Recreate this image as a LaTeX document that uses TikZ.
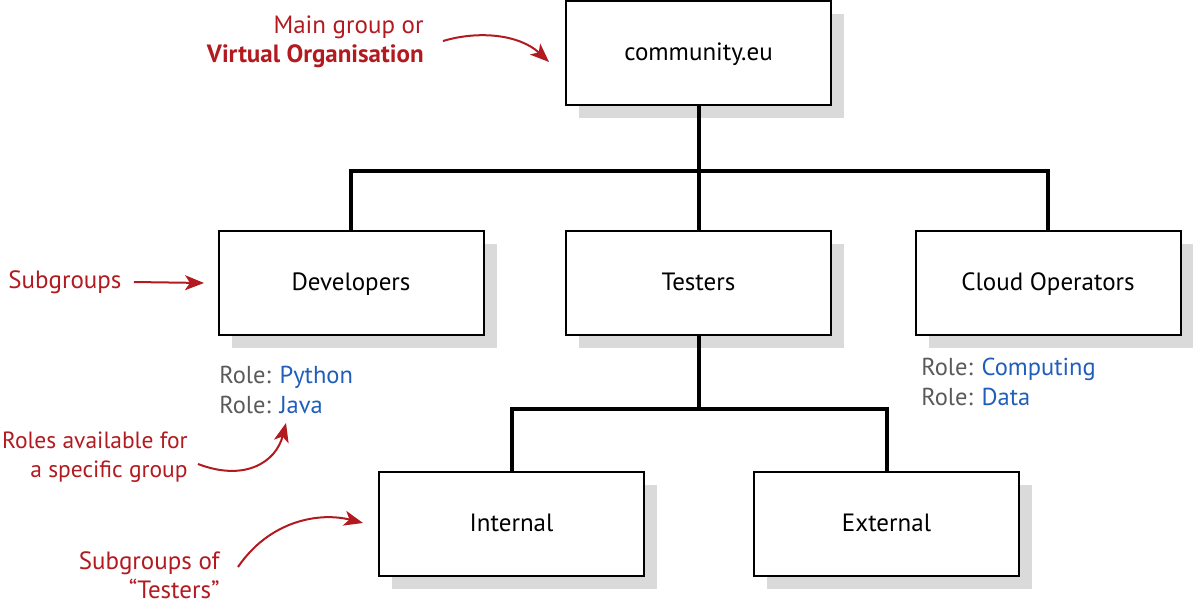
\documentclass[tikz,border=0pt]{standalone}
\usepackage{fontspec}
\setmainfont{PT Sans}
\usetikzlibrary{arrows.meta,shadows}
\definecolor{notered}{RGB}{178,26,32}
\definecolor{roleblue}{RGB}{31,94,186}
\definecolor{rolegray}{RGB}{90,90,90}
\definecolor{shadowgray}{RGB}{217,218,217}
\tikzset{every picture/.style={line width=0.75pt}}
\begin{document}
\begin{tikzpicture}[x=1pt,y=-1pt,
  box/.style={draw,line width=2pt,fill=white,minimum width=265pt,minimum height=104pt,
    font=\fontsize{25}{29}\selectfont,text height=20pt,text depth=5pt,
    drop shadow={shadow xshift=13pt,shadow yshift=-13pt,fill=shadowgray,opacity=1}},
  conn/.style={line width=4pt},
  note/.style={draw=notered,line width=2pt,-{Stealth[length=19pt,width=15pt,inset=5pt]}},
  lbl/.style={text=notered,inner sep=0pt,font=\fontsize{25}{29.5}\selectfont},
  roles/.style={inner sep=0pt,anchor=west,align=left,font=\fontsize{24.5}{29.5}\selectfont}]
\useasboundingbox (0,0) rectangle (1193,605);

% Boxes
\node[box] (comm) at (698.5,53) {community.eu};
\node[box] (dev) at (351,282.5) {Developers};
\node[box] (test) at (698.5,282.5) {Testers};
\node[box] (cloud) at (1048,282.5) {Cloud Operators};
\node[box] (int) at (511.5,524) {Internal};
\node[box] (ext) at (886.5,524) {External};

% Connectors
\coordinate (bustop) at (698.5,171);
\coordinate (buslow) at (698.5,409);
\draw[conn] (comm.south) -- (bustop);
\draw[conn] (dev.north) |- (bustop) -| (cloud.north);
\draw[conn] (bustop) -- (test.north);
\draw[conn] (test.south) -- (buslow);
\draw[conn] (int.north) |- (buslow) -| (ext.north);

% Roles
\node[roles] (devroles) at (219,390) {\textcolor{rolegray}{Role:} \textcolor{roleblue}{Python}\\\textcolor{rolegray}{Role:} \textcolor{roleblue}{Java}};
\node[roles] (cloudroles) at (921,382) {\textcolor{rolegray}{Role:} \textcolor{roleblue}{Computing}\\\textcolor{rolegray}{Role:} \textcolor{roleblue}{Data}};

% Text Node
\node[lbl,anchor=east,align=right] (volbl) at (424,42) {Main group or\\\textbf{Virtual Organisation}};
\node[lbl,anchor=west] (sublbl) at (8,282) {Subgroups};
\node[lbl,anchor=east,align=right,font=\fontsize{23.5}{29.5}\selectfont] (rolelbl) at (188,457) {Roles available for\\a specific group};
\node[lbl,anchor=east,align=right] (testlbl) at (220,575) {Subgroups of\\“Testers”};

% Notes
\coordinate (votip) at (549,62);
\coordinate (subtip) at (204,283);
\coordinate (roletip) at (286,423);
\coordinate (testtip) at (363,523);
\draw[note] (443,41) .. controls (480,30) and (520,35) .. (votip);
\draw[note] (sublbl.east) ++(12,0) -- (subtip);
\draw[note] (198,464) .. controls (245,482) and (276,462) .. (roletip);
\draw[note] (238,567) .. controls (270,520) and (320,512) .. (testtip);
\end{tikzpicture}
\end{document}
